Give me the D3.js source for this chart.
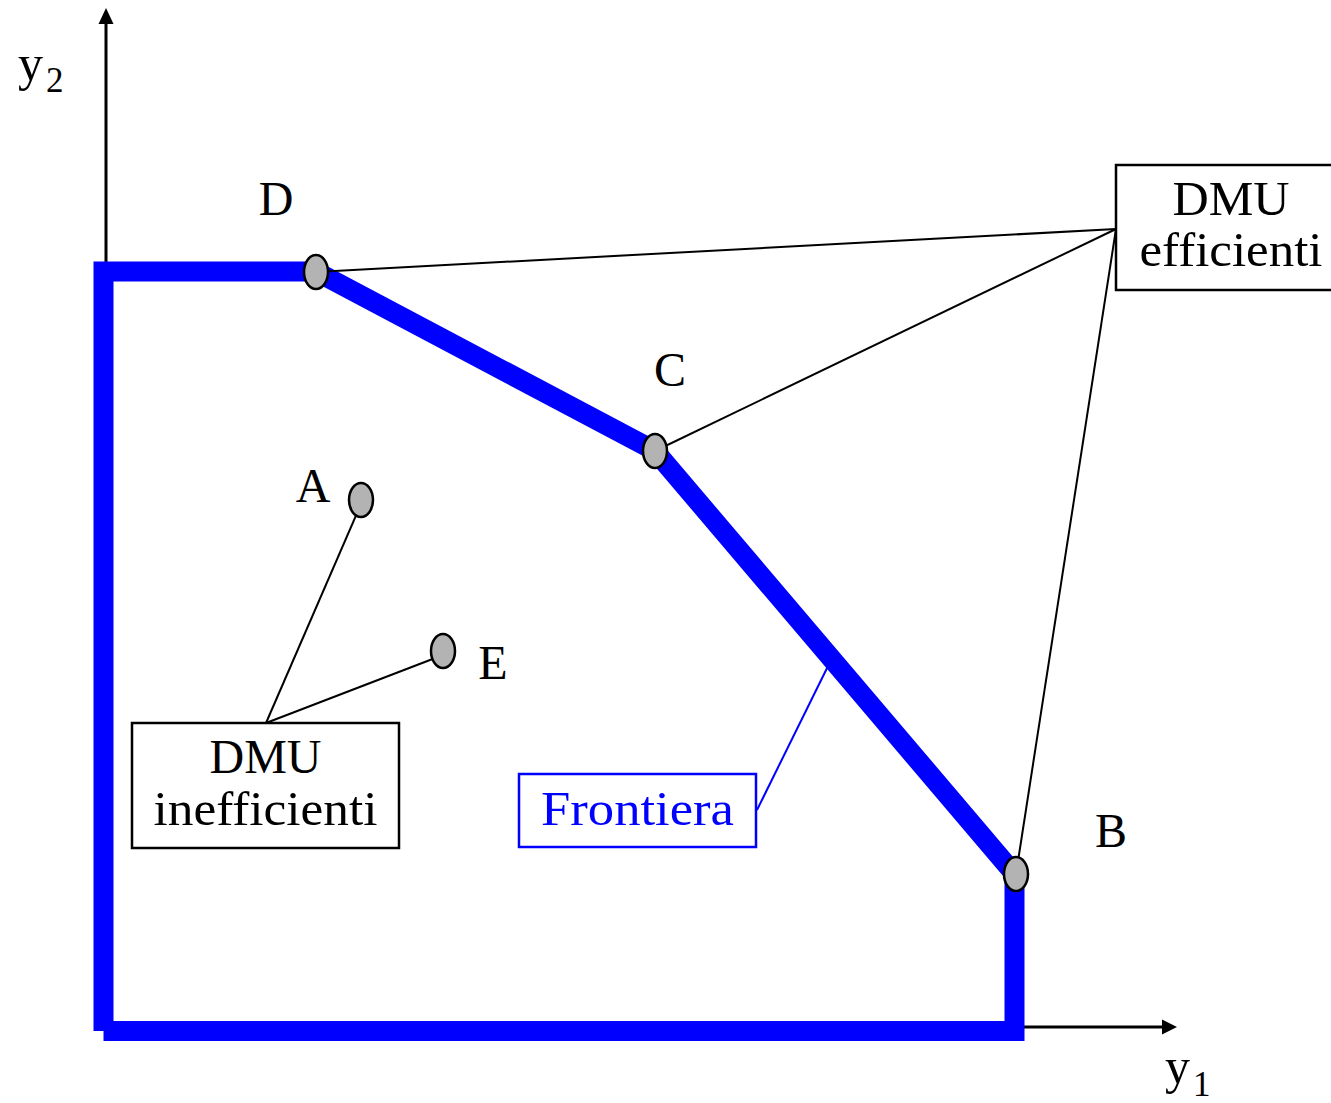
<!DOCTYPE html>
<html>
<head>
<meta charset="utf-8">
<script src="https://cdn.jsdelivr.net/npm/d3@7"></script>
<style>
  body { margin: 0; background: #fff; }
  svg { display: block; }
  text { font-family: "Liberation Serif", "DejaVu Serif", serif; }
</style>
</head>
<body>
<svg></svg>
<script>
// DMU names and their (y1, y2) outputs
const dmuNames = ["A", "B", "C", "D", "E"];
const dmuY1 = [2.55, 9.10, 5.49, 2.10, 3.37];
const dmuY2 = [5.27, 1.53, 5.76, 7.55, 3.76];
const efficient = ["D", "C", "B"];
const inefficient = ["A", "E"];

// frontier envelope corners (y1, y2)
const frontierY1 = [-0.025, -0.025, 2.10, 5.49, 9.085, 9.085, -0.025];
const frontierY2 = [-0.04, 7.555, 7.555, 5.76, 1.53, -0.04, -0.04];

const axisLabels = ["y", "1", "y", "2"];

const width = 1331, height = 1103;

const svg = d3.select("svg")
    .attr("width", width)
    .attr("height", height);

const x = d3.scaleLinear().domain([0, 10]).range([106, 1106]);
const y = d3.scaleLinear().domain([0, 10]).range([1027, 27]);

const pts = dmuNames.map((n, i) => ({ name: n, x: x(dmuY1[i]), y: y(dmuY2[i]) }));
const byName = Object.fromEntries(pts.map(p => [p.name, p]));

// axes
const ox = x(0), oy = y(0);
svg.append("line")
    .attr("x1", ox).attr("y1", oy).attr("x2", ox).attr("y2", 24)
    .attr("stroke", "#000").attr("stroke-width", 3);
svg.append("path")
    .attr("d", `M${ox},8 L${ox - 7.5},24 L${ox + 7.5},24 Z`)
    .attr("fill", "#000");
svg.append("line")
    .attr("x1", ox).attr("y1", oy).attr("x2", 1162).attr("y2", oy)
    .attr("stroke", "#000").attr("stroke-width", 3);
svg.append("path")
    .attr("d", `M1177,${oy} L1162,${oy - 7.5} L1162,${oy + 7.5} Z`)
    .attr("fill", "#000");

// axis labels
const yl1 = svg.append("text").attr("x", 1165).attr("y", 1083).attr("font-size", 50);
yl1.append("tspan").text(axisLabels[0]);
yl1.append("tspan").attr("font-size", 35).attr("dx", 3).attr("dy", 13).text(axisLabels[1]);
const yl2 = svg.append("text").attr("x", 18).attr("y", 80).attr("font-size", 50);
yl2.append("tspan").text(axisLabels[2]);
yl2.append("tspan").attr("font-size", 35).attr("dx", 3).attr("dy", 12).text(axisLabels[3]);

// frontier
const line = d3.line().x(d => x(d[0])).y(d => y(d[1]));
svg.append("path")
    .attr("d", line(frontierY1.map((v, i) => [v, frontierY2[i]])))
    .attr("fill", "none")
    .attr("stroke", "#0000ff")
    .attr("stroke-width", 20)
    .attr("stroke-linejoin", "miter");

// leader lines
const effAnchor = [1116, 229];
efficient.forEach(n => {
    svg.append("line")
        .attr("x1", effAnchor[0]).attr("y1", effAnchor[1])
        .attr("x2", byName[n].x).attr("y2", byName[n].y)
        .attr("stroke", "#000").attr("stroke-width", 2);
});
const ineffAnchor = [266, 723];
inefficient.forEach(n => {
    svg.append("line")
        .attr("x1", ineffAnchor[0]).attr("y1", ineffAnchor[1])
        .attr("x2", byName[n].x).attr("y2", byName[n].y + 4)
        .attr("stroke", "#000").attr("stroke-width", 2);
});
const fp = d3.interpolate([byName.C.x, byName.C.y], [byName.B.x, byName.B.y])(0.49);
svg.append("line")
    .attr("x1", 757).attr("y1", 810)
    .attr("x2", fp[0]).attr("y2", fp[1])
    .attr("stroke", "#0000ff").attr("stroke-width", 2);

// DMU points
svg.selectAll("ellipse.dmu")
    .data(pts)
    .enter().append("ellipse")
    .attr("class", "dmu")
    .attr("cx", d => d.x)
    .attr("cy", d => d.y)
    .attr("rx", 12)
    .attr("ry", 17)
    .attr("fill", "#b3b3b3")
    .attr("stroke", "#000")
    .attr("stroke-width", 2.5);

// point labels (offsets from the marker)
const labelOffset = { A: [-48, 2], B: [95, -27], C: [15, -65], D: [-40, -57], E: [50, 28] };
svg.selectAll("text.lbl")
    .data(pts)
    .enter().append("text")
    .attr("class", "lbl")
    .attr("x", d => d.x + labelOffset[d.name][0])
    .attr("y", d => d.y + labelOffset[d.name][1])
    .attr("text-anchor", "middle")
    .attr("font-size", 48)
    .text(d => d.name);

// boxes; text stretched to the width the original serif face takes
function box(x0, y0, w, h, lines, baselines, lens, color) {
    svg.append("rect")
        .attr("x", x0).attr("y", y0).attr("width", w).attr("height", h)
        .attr("fill", "#fff").attr("stroke", color).attr("stroke-width", 2.5);
    lines.forEach((t, i) => {
        svg.append("text")
            .attr("x", x0 + w / 2)
            .attr("y", baselines[i])
            .attr("text-anchor", "middle")
            .attr("font-size", 48)
            .attr("fill", color)
            .attr("textLength", lens[i])
            .attr("lengthAdjust", "spacingAndGlyphs")
            .text(t);
    });
}
box(1116, 165, 230, 125, ["DMU", "efficienti"], [215, 266], [117, 183], "#000");
box(132, 723, 267, 125, ["DMU", "inefficienti"], [773, 825], [112, 224], "#000");
box(519, 774, 237, 73, ["Frontiera"], [825], [193], "#0000ff");
</script>
</body>
</html>
